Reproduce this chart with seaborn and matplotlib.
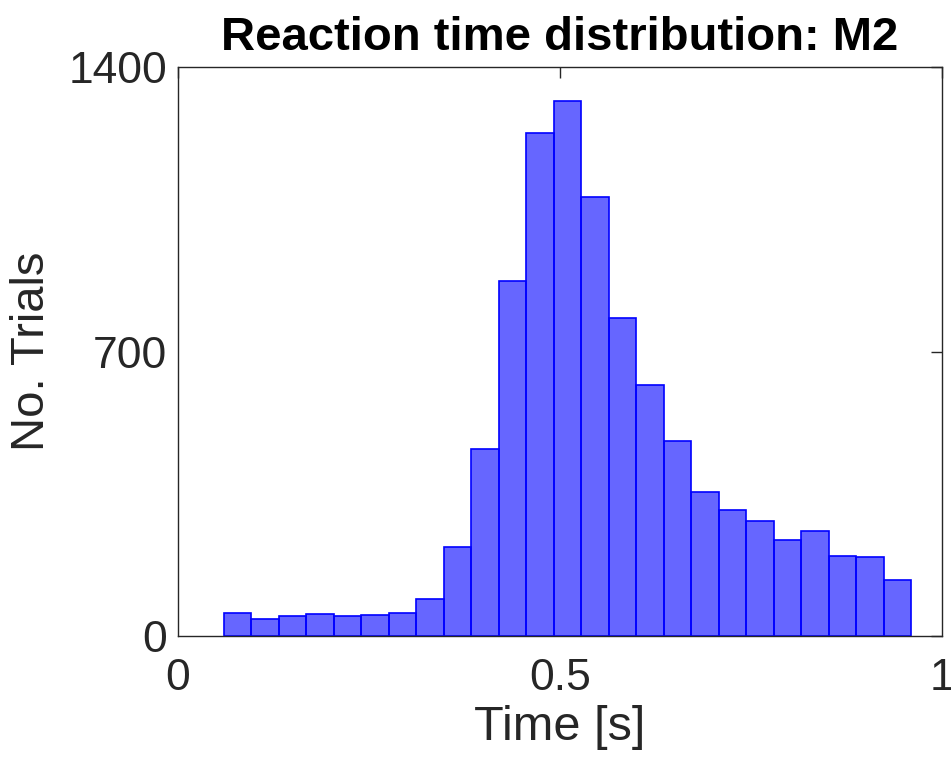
import numpy as np
import pandas as pd
import seaborn as sns
import matplotlib
matplotlib.use("Agg")
import matplotlib.pyplot as plt

# Data
bin_edges = [0.060, 0.096, 0.132, 0.168, 0.204, 0.240, 0.276, 0.312, 0.348, 0.384,
             0.420, 0.456, 0.492, 0.528, 0.564, 0.600, 0.636, 0.672, 0.708, 0.744,
             0.780, 0.816, 0.852, 0.888, 0.924, 0.960]
counts = [56, 41, 50, 55, 50, 52, 57, 90, 219, 460, 874, 1238, 1316, 1081, 782,
          618, 481, 355, 310, 282, 235, 259, 198, 194, 138]
x_ticks = [0, 0.5, 1]
x_tick_labels = ["0", "0.5", "1"]
y_ticks = [0, 700, 1400]
y_tick_labels = ["0", "700", "1400"]

centers = [(a + b) / 2 for a, b in zip(bin_edges[:-1], bin_edges[1:])]
df = pd.DataFrame({"time": centers, "n": counts})

sns.set_theme(style="white")
plt.rcParams["font.family"] = ["Liberation Sans", "DejaVu Sans"]

fig = plt.figure(figsize=(9.51, 7.60), dpi=100)
ax = fig.add_axes([178 / 951, 1 - 636 / 760, (942 - 178) / 951, (636 - 67) / 760])

sns.histplot(data=df, x="time", weights="n", bins=bin_edges, ax=ax,
             color="#0000FF", alpha=0.6, edgecolor="#0000FF", linewidth=1.2,
             stat="count")

ax.set_xlim(0, 1)
ax.set_ylim(0, 1400)
ax.set_xticks(x_ticks)
ax.set_xticklabels(x_tick_labels)
ax.set_yticks(y_ticks)
ax.set_yticklabels(y_tick_labels)

axis_col = "#262626"
for s in ax.spines.values():
    s.set_visible(True)
    s.set_color(axis_col)
    s.set_linewidth(1.0)
ax.tick_params(axis="both", direction="in", length=8, width=1.0, color=axis_col,
               labelsize=32, labelcolor=axis_col, top=True, right=True)
ax.tick_params(axis="x", pad=16)
ax.tick_params(axis="y", pad=8)

ax.set_xlabel("Time [s]", fontsize=35, color=axis_col, labelpad=4)
ax.set_ylabel("No. Trials", fontsize=34, color=axis_col, labelpad=10)
ax.set_title("Reaction time distribution: M2", fontsize=34, fontweight="bold",
             color="black", pad=12)

fig.savefig("out.png", dpi=100, facecolor="white")
